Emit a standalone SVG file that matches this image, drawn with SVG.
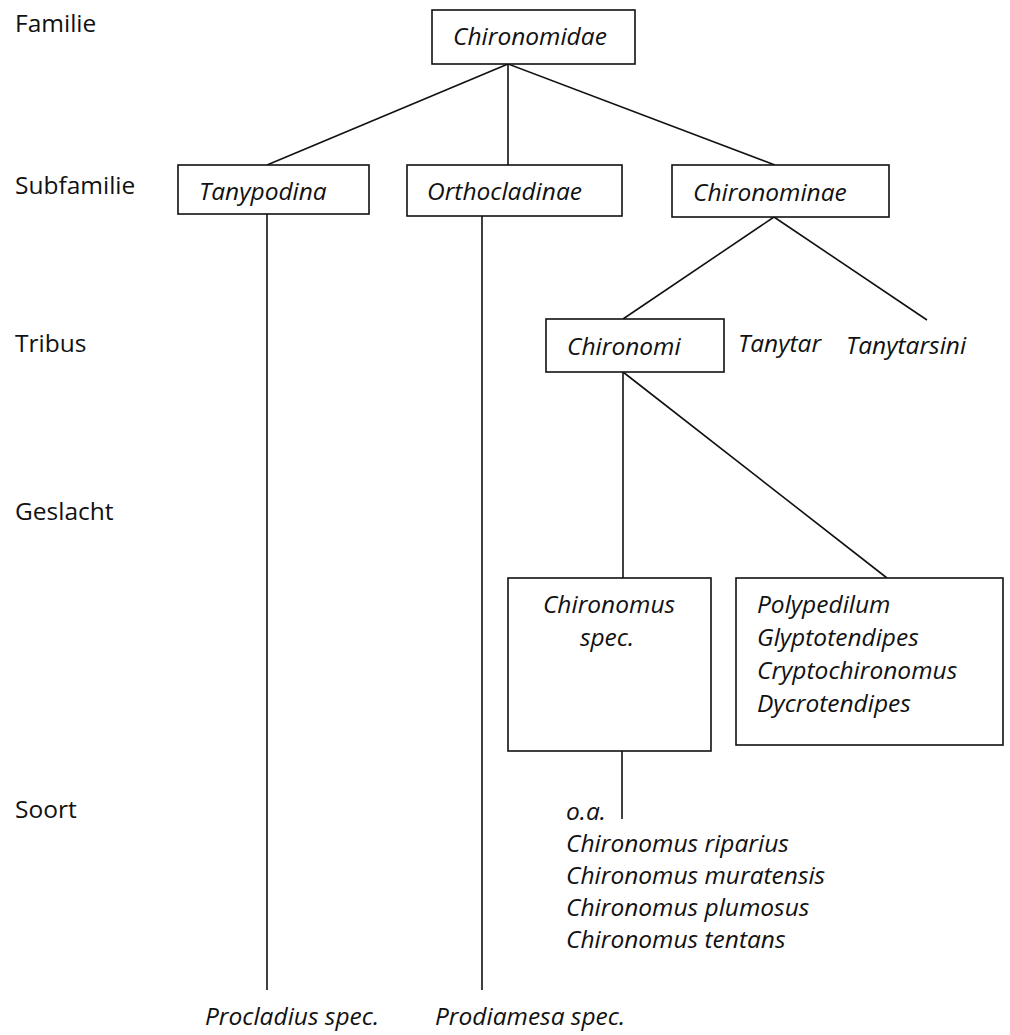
<svg xmlns="http://www.w3.org/2000/svg" width="1010" height="1035" viewBox="0 0 1010 1035">
<style>
text{font-family:"Open Sans","Liberation Sans",sans-serif;font-size:24.5px;fill:#111}
.it{font-style:italic}
.box{fill:#fff;stroke:#111;stroke-width:1.6}
.con line{stroke:#111;stroke-width:1.6}
</style>
<defs>
<clipPath id="clipFam"><rect x="432" y="10" width="181" height="54"/></clipPath>
</defs>
<rect width="1010" height="1035" fill="#fff"/>
<g id="levels">
<text x="15" y="32">Familie</text>
<text x="15" y="194">Subfamilie</text>
<text x="15" y="352">Tribus</text>
<text x="15" y="520">Geslacht</text>
<text x="15" y="818">Soort</text>
</g>
<g class="con" id="connectors">
<line x1="508" y1="64" x2="267" y2="165"/>
<line x1="508" y1="64" x2="508" y2="165"/>
<line x1="508" y1="64" x2="775" y2="165"/>
<line x1="267" y1="214" x2="267" y2="990"/>
<line x1="482" y1="216" x2="482" y2="990"/>
<line x1="774" y1="217" x2="623" y2="319"/>
<line x1="774" y1="217" x2="927" y2="320"/>
<line x1="623" y1="372" x2="623" y2="578"/>
<line x1="623" y1="372" x2="887" y2="578"/>
<line x1="622" y1="751" x2="622" y2="819"/>
</g>
<g id="chironomidae">
<rect class="box" x="432" y="10" width="203" height="54"/>
<text class="it" x="453" y="45" clip-path="url(#clipFam)">Chironomidae</text>
</g>
<g id="tanypodina">
<rect class="box" x="178" y="165" width="191" height="49"/>
<text class="it" x="199" y="200">Tanypodina</text>
</g>
<g id="orthocladinae">
<rect class="box" x="407" y="165" width="215" height="51"/>
<text class="it" x="427" y="200">Orthocladinae</text>
</g>
<g id="chironominae">
<rect class="box" x="672" y="165" width="217" height="52"/>
<text class="it" x="693" y="201">Chironominae</text>
</g>
<g id="chironomi">
<rect class="box" x="546" y="319" width="178" height="53"/>
<text class="it" x="567" y="355">Chironomi</text>
</g>
<g id="tanytar">
<text class="it" x="738" y="352">Tanytar</text>
</g>
<g id="tanytarsini">
<text class="it" x="846" y="354">Tanytarsini</text>
</g>
<g id="chironomus-spec">
<rect class="box" x="508" y="578" width="203" height="173"/>
<text class="it" x="609" y="613" text-anchor="middle">Chironomus</text>
<text class="it" x="607" y="646" text-anchor="middle">spec.</text>
</g>
<g id="other-genera">
<rect class="box" x="736" y="578" width="267" height="167"/>
<text class="it" x="757" y="613">Polypedilum</text>
<text class="it" x="757" y="646">Glyptotendipes</text>
<text class="it" x="757" y="679">Cryptochironomus</text>
<text class="it" x="757" y="712">Dycrotendipes</text>
</g>
<g id="species">
<text class="it" x="566" y="820">o.a.</text>
<text class="it" x="566" y="852">Chironomus riparius</text>
<text class="it" x="566" y="884">Chironomus muratensis</text>
<text class="it" x="566" y="916">Chironomus plumosus</text>
<text class="it" x="566" y="948">Chironomus tentans</text>
</g>
<g id="procladius">
<text class="it" x="205" y="1025">Procladius spec.</text>
</g>
<g id="prodiamesa">
<text class="it" x="435" y="1025">Prodiamesa spec.</text>
</g>
</svg>
